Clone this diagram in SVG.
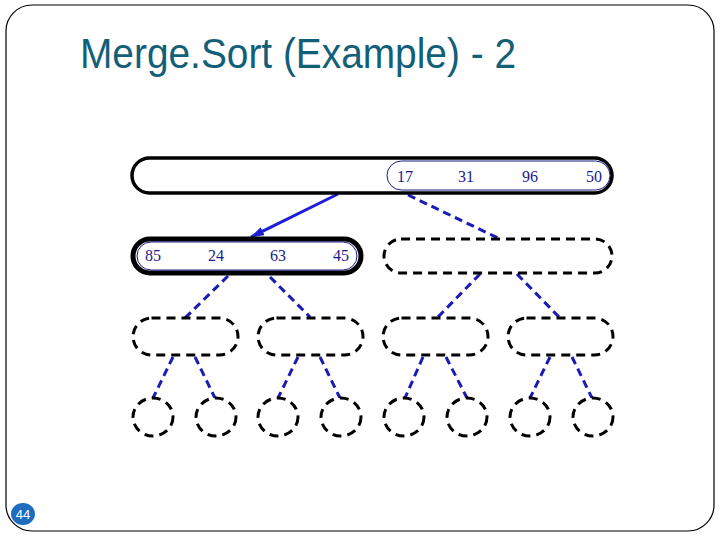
<svg xmlns="http://www.w3.org/2000/svg" width="720" height="540" viewBox="0 0 720 540">
<style>
.frame{fill:#fff;stroke:#000;stroke-width:1.2}
.title{font-family:"Liberation Sans",Arial,sans-serif;font-size:42px;fill:#135f78}
.solid{fill:#fff;stroke:#000;stroke-width:3.5}
.thick{fill:#fff;stroke:#000;stroke-width:5}
.inner{fill:none;stroke:#1a1a8c;stroke-width:1}
.dash{fill:#fff;stroke:#000;stroke-width:3;stroke-dasharray:9 6}
.num{font-family:"Liberation Serif","Times New Roman",serif;font-size:16px;fill:#1a1a8c}
.bl{stroke:#1e1ed2;stroke-width:3;fill:none}
.bld{stroke:#1a1ab4;stroke-width:3;fill:none;stroke-dasharray:8 5}
.pg{font-family:"Liberation Sans",Arial,sans-serif;font-size:13px;fill:#fff}
</style>
<defs>
<marker id="ah" markerWidth="14" markerHeight="9" refX="13" refY="4.5" orient="auto" markerUnits="userSpaceOnUse">
<path d="M0,0 L14,4.5 L0,9 Z" fill="#1e1ed2"/>
</marker>
</defs>
<rect class="frame" x="6" y="5" width="708" height="526" rx="26" ry="26"/>
<text class="title" x="80" y="68" textLength="436" lengthAdjust="spacingAndGlyphs">Merge.Sort (Example) - 2</text>
<g id="page">
<ellipse cx="23" cy="514" rx="12" ry="11" fill="#1e6cc0"/>
<text class="pg" x="23" y="519" text-anchor="middle">44</text>
</g>
<g id="connectors">
<line class="bl" x1="338" y1="194" x2="251" y2="237" marker-end="url(#ah)"/>
<line class="bld" x1="408" y1="195" x2="498" y2="238"/>
<line class="bld" x1="228" y1="276" x2="185" y2="318"/>
<line class="bld" x1="270" y1="277" x2="310" y2="317"/>
<line class="bld" x1="480" y1="274" x2="437" y2="318"/>
<line class="bld" x1="517" y1="274" x2="560" y2="318"/>
<line class="bld" x1="173" y1="357" x2="153" y2="398"/>
<line class="bld" x1="195" y1="357" x2="215" y2="398"/>
<line class="bld" x1="298" y1="357" x2="278" y2="398"/>
<line class="bld" x1="320" y1="357" x2="340" y2="398"/>
<line class="bld" x1="423" y1="357" x2="405" y2="398"/>
<line class="bld" x1="446" y1="357" x2="467" y2="398"/>
<line class="bld" x1="550" y1="357" x2="530" y2="398"/>
<line class="bld" x1="572" y1="357" x2="592" y2="398"/>
</g>
<g id="root">
<rect class="solid" x="132" y="158" width="480" height="35" rx="17.5"/>
<rect class="inner" x="387" y="161" width="223" height="29" rx="14.5"/>
<text class="num" x="397" y="182">17</text>
<text class="num" x="458" y="182">31</text>
<text class="num" x="522" y="182">96</text>
<text class="num" x="586" y="182">50</text>
</g>
<g id="left">
<rect class="thick" x="133" y="239" width="228" height="34" rx="17"/>
<rect class="inner" x="137" y="242" width="220" height="28" rx="14"/>
<text class="num" x="145" y="261">85</text>
<text class="num" x="208" y="261">24</text>
<text class="num" x="270" y="261">63</text>
<text class="num" x="333" y="261">45</text>
</g>
<g id="right">
<rect class="dash" x="384" y="239" width="228" height="34" rx="17"/>
</g>
<g id="l3a"><rect class="dash" x="133" y="318" width="105" height="37" rx="18.5"/></g>
<g id="l3b"><rect class="dash" x="258" y="318" width="105" height="37" rx="18.5"/></g>
<g id="l3c"><rect class="dash" x="383" y="318" width="105" height="37" rx="18.5"/></g>
<g id="l3d"><rect class="dash" x="508" y="318" width="105" height="37" rx="18.5"/></g>
<g id="c1"><ellipse class="dash" cx="153" cy="417" rx="20" ry="19"/></g>
<g id="c2"><ellipse class="dash" cx="216" cy="417" rx="20" ry="19"/></g>
<g id="c3"><ellipse class="dash" cx="278" cy="417" rx="20" ry="19"/></g>
<g id="c4"><ellipse class="dash" cx="341" cy="417" rx="20" ry="19"/></g>
<g id="c5"><ellipse class="dash" cx="404" cy="417" rx="20" ry="19"/></g>
<g id="c6"><ellipse class="dash" cx="467" cy="417" rx="20" ry="19"/></g>
<g id="c7"><ellipse class="dash" cx="530" cy="417" rx="20" ry="19"/></g>
<g id="c8"><ellipse class="dash" cx="593" cy="417" rx="20" ry="19"/></g>
</svg>
